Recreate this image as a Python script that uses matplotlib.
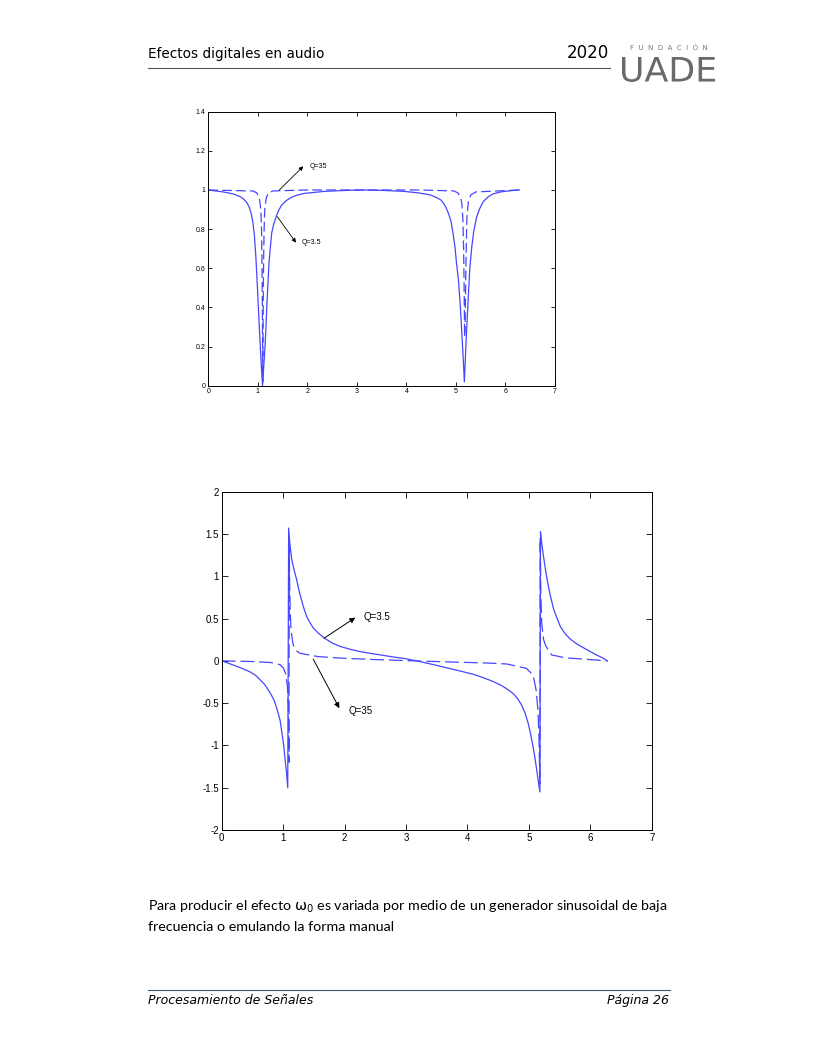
import numpy as np
import matplotlib
matplotlib.use('Agg')
from matplotlib import pyplot as plt
from matplotlib.textpath import TextPath
from matplotlib.patches import PathPatch
from matplotlib.font_manager import FontProperties
from matplotlib.transforms import Affine2D, IdentityTransform

plt.rcParams['lines.scale_dashes'] = False
plt.rcParams['mathtext.fontset'] = 'dejavusans'

# magnitud (filtro notch), Q=3.5 linea llena y Q=35 a trazos
mag_x = [0, 0.3, 0.5, 0.65, 0.72, 0.78, 0.83, 0.87, 0.9, 0.93, 0.96, 0.99, 1.02, 1.05, 1.075, 1.095,
         1.12, 1.145, 1.165, 1.18, 1.2, 1.225, 1.25, 1.28, 1.32, 1.37, 1.42, 1.48, 1.57, 1.68, 1.8, 1.95,
         2.35, 2.8, 3.14, 3.5, 3.95, 4.25, 4.48, 4.62, 4.7, 4.75, 4.8, 4.85, 4.9, 4.94, 4.98, 5.01,
         5.05, 5.085, 5.115, 5.145, 5.17, 5.2, 5.225, 5.25, 5.28, 5.32, 5.36, 5.42, 5.48, 5.55, 5.65,
         5.75, 5.9, 6.09, 6.28]
mag_q3 = [1.0, 0.99, 0.98, 0.965, 0.952, 0.935, 0.91, 0.875, 0.835, 0.77, 0.66, 0.51, 0.35, 0.2, 0.08, 0.0,
          0.1, 0.2, 0.3, 0.4, 0.5, 0.625, 0.7, 0.78, 0.825, 0.864, 0.895, 0.923, 0.945, 0.963, 0.974, 0.983,
          0.993, 0.998, 1.0, 0.998, 0.993, 0.985, 0.975, 0.96, 0.948, 0.932, 0.91, 0.88, 0.84, 0.78, 0.71, 0.63,
          0.54, 0.42, 0.285, 0.15, 0.02, 0.2, 0.33, 0.455, 0.6, 0.71, 0.79, 0.864, 0.905, 0.94, 0.965,
          0.98, 0.99, 0.996, 1.0]

mag35_x = [0, 0.9, 0.98, 1.03, 1.06, 1.075, 1.085, 1.093, 1.1, 1.107, 1.115, 1.125, 1.14, 1.17,
           1.22, 1.3, 2.0, 3.14, 4.3, 4.96, 5.04, 5.09, 5.12, 5.14, 5.155, 5.165, 5.175, 5.185,
           5.2, 5.22, 5.25, 5.3, 5.4, 6.28]
mag_q35 = [1.0, 0.995, 0.985, 0.96, 0.9, 0.8, 0.6, 0.35, 0.02, 0.35, 0.6, 0.78, 0.9, 0.96,
           0.985, 0.995, 1.0, 1.0, 1.0, 0.995, 0.985, 0.965, 0.93, 0.85, 0.7, 0.5, 0.25, 0.3,
           0.6, 0.85, 0.94, 0.975, 0.99, 1.0]

# fase
ph_x = [0, 0.19, 0.35, 0.46, 0.55, 0.62, 0.7, 0.79, 0.85, 0.9, 0.95, 0.98, 1.01, 1.03, 1.055, 1.075,
        1.09, 1.11, 1.14, 1.18, 1.22, 1.25, 1.28, 1.33, 1.38, 1.43, 1.49, 1.57, 1.67, 1.8, 1.93, 2.1,
        2.25, 2.45, 2.63, 2.8, 3.0, 3.2, 3.45, 3.65, 3.88, 4.1, 4.26, 4.42, 4.55, 4.65, 4.75, 4.82,
        4.88, 4.94, 4.99, 5.03, 5.07, 5.1, 5.13, 5.155, 5.18, 5.19, 5.215, 5.24, 5.27, 5.3, 5.35, 5.4,
        5.45, 5.51, 5.58, 5.67, 5.78, 5.9, 6.0, 6.1, 6.2, 6.28]
ph_q3 = [0, -0.05, -0.095, -0.13, -0.17, -0.22, -0.28, -0.38, -0.46, -0.57, -0.7, -0.85, -1.0, -1.15, -1.32, -1.5,
         1.57, 1.38, 1.2, 1.07, 0.96, 0.86, 0.77, 0.64, 0.53, 0.46, 0.39, 0.33, 0.27, 0.21, 0.17, 0.135,
         0.11, 0.085, 0.065, 0.045, 0.025, -0.005, -0.045, -0.08, -0.12, -0.16, -0.2, -0.245, -0.29, -0.335, -0.39, -0.45,
         -0.52, -0.62, -0.74, -0.87, -1.02, -1.15, -1.3, -1.43, -1.55, 1.53, 1.36, 1.23, 1.08, 0.95, 0.77, 0.62,
         0.52, 0.41, 0.33, 0.26, 0.2, 0.15, 0.11, 0.07, 0.035, 0.0]

ph35_x = [0, 0.5, 0.8, 0.95, 1.0, 1.04, 1.07, 1.085, 1.095, 1.1, 1.105, 1.115, 1.13, 1.16, 1.2,
          1.27, 1.57, 2.0, 2.5, 3.14, 3.8, 4.3, 4.64, 4.96, 5.07, 5.12, 5.15, 5.165, 5.175, 5.18,
          5.185, 5.195, 5.21, 5.24, 5.28, 5.37, 5.6, 5.9, 6.28]
ph_q35 = [0, -0.008, -0.02, -0.045, -0.08, -0.15, -0.3, -0.55, -1.2, 1.4, 0.95, 0.6, 0.35, 0.2, 0.13,
          0.09, 0.05, 0.03, 0.015, 0.0, -0.015, -0.025, -0.037, -0.088, -0.17, -0.35, -0.6, -0.9, -1.3, -1.45,
          1.45, 0.8, 0.44, 0.25, 0.17, 0.07, 0.035, 0.02, 0.0]

mag_yticks = [0, 0.2, 0.4, 0.6, 0.8, 1, 1.2, 1.4]
mag_ylabels = ['0', '0.2', '0.4', '0.6', '0.8', '1', '1.2', '1.4']
ph_yticks = [-2, -1.5, -1, -0.5, 0, 0.5, 1, 1.5, 2]
ph_ylabels = ['-2', '-1.5', '-1', '-0.5', '0', '0.5', '1', '1.5', '2']
xticks = [0, 1, 2, 3, 4, 5, 6, 7]

azul = '#4646ff'
W, H = 817, 1057

def pos(x, y):
    return x / W, 1 - y / H

def estilo_matlab(ax, fs, largo):
    ax.tick_params(direction='in', top=True, right=True, length=largo, width=0.6,
                   labelsize=fs, pad=2)
    for s in ax.spines.values():
        s.set_linewidth(0.7)
    for t in ax.get_xticklabels() + ax.get_yticklabels():
        t.set_family('Liberation Sans')

def texto_en_caja(fig, s, x0, x1, y0, y1, color):
    # dibuja el texto estirado dentro de una caja en pixeles de pagina
    tp = TextPath((0, 0), s, size=1, prop=FontProperties(family='DejaVu Sans'))
    bb = tp.get_extents()
    tr = Affine2D().translate(-bb.x0, -bb.y0).scale((x1 - x0) / bb.width, (y1 - y0) / bb.height)
    tr = tr.translate(x0, H - y1)
    fig.add_artist(PathPatch(tr.transform_path(tp), facecolor=color, edgecolor='none',
                             transform=IdentityTransform()))

fig = plt.figure(figsize=(W / 100, H / 100), dpi=100)

# encabezado
fig.text(*pos(148, 58), 'Efectos digitales en audio', fontsize=9.8, family='DejaVu Sans', va='baseline')
fig.text(*pos(609, 58), '2020', fontsize=12, family='DejaVu Sans', ha='right', va='baseline')
fig.add_artist(plt.Line2D([148 / W, 610 / W], [1 - 67.5 / H] * 2, color='#555555', lw=0.8))
fig.text(*pos(669, 50), 'F  U  N  D  A  C  I  Ó  N', fontsize=5, color='#777777', ha='center', va='baseline')
texto_en_caja(fig, 'UADE', 622, 715, 57, 82, '#6a6a6a')

# grafico superior: magnitud
ax1 = fig.add_axes([208.3 / W, 1 - 385.7 / H, (555 - 208.3) / W, (385.7 - 111.7) / H])
ax1.plot(mag_x, mag_q3, color=azul, lw=0.9)
ax1.plot(mag35_x, mag_q35, color=azul, lw=0.9, dashes=(7, 3))
ax1.set_xlim(0, 7)
ax1.set_ylim(0, 1.4)
ax1.set_xticks(xticks)
ax1.set_yticks(mag_yticks)
ax1.set_yticklabels(mag_ylabels)
estilo_matlab(ax1, 5, 3)
flecha = dict(arrowstyle='-|>', lw=0.6, color='k', mutation_scale=6, shrinkA=0, shrinkB=0)
ax1.annotate('', xy=(1.918, 1.121), xytext=(1.434, 1.0), arrowprops=flecha)
ax1.text(2.05, 1.121, 'Q=35', fontsize=5, va='center', family='Liberation Sans')
ax1.annotate('', xy=(1.77, 0.731), xytext=(1.393, 0.864), arrowprops=flecha)
ax1.text(1.886, 0.731, 'Q=3.5', fontsize=5, va='center', family='Liberation Sans')

# grafico inferior: fase
ax2 = fig.add_axes([221.7 / W, 1 - 830 / H, (651.7 - 221.7) / W, (830 - 491.7) / H])
ax2.plot(ph_x, ph_q3, color=azul, lw=0.9)
ax2.plot(ph35_x, ph_q35, color=azul, lw=0.9, dashes=(10, 3.5))
ax2.set_xlim(0, 7)
ax2.set_ylim(-2, 2)
ax2.set_xticks(xticks)
ax2.set_yticks(ph_yticks)
ax2.set_yticklabels(ph_ylabels)
estilo_matlab(ax2, 7, 4)
flecha2 = dict(arrowstyle='-|>', lw=0.7, color='k', mutation_scale=8, shrinkA=0, shrinkB=0)
ax2.annotate('', xy=(2.175, 0.511), xytext=(1.665, 0.267), arrowprops=flecha2)
ax2.text(2.305, 0.523, 'Q=3.5', fontsize=7, va='center', family='Liberation Sans')
ax2.annotate('', xy=(1.915, -0.56), xytext=(1.49, 0.02), arrowprops=flecha2)
ax2.text(2.06, -0.592, 'Q=35', fontsize=7, va='center', family='Liberation Sans')

# parrafo
fig.text(*pos(148, 911), r'Para producir el efecto $\mathrm{\omega}_0$ es variada por medio de un generador sinusoidal de baja',
         fontsize=10.3, family='Lato', va='baseline')
fig.text(*pos(148, 931), 'frecuencia o emulando la forma manual', fontsize=10.3, family='Lato', va='baseline')

# pie de pagina
fig.add_artist(plt.Line2D([148 / W, 670 / W], [1 - 990 / H] * 2, color='#44546a', lw=0.8))
fig.text(*pos(148, 1004), 'Procesamiento de Señales', fontsize=9, style='italic', va='baseline')
fig.text(*pos(669, 1004), 'Página 26', fontsize=9, style='italic', ha='right', va='baseline')

fig.savefig('out.png', dpi=100)
